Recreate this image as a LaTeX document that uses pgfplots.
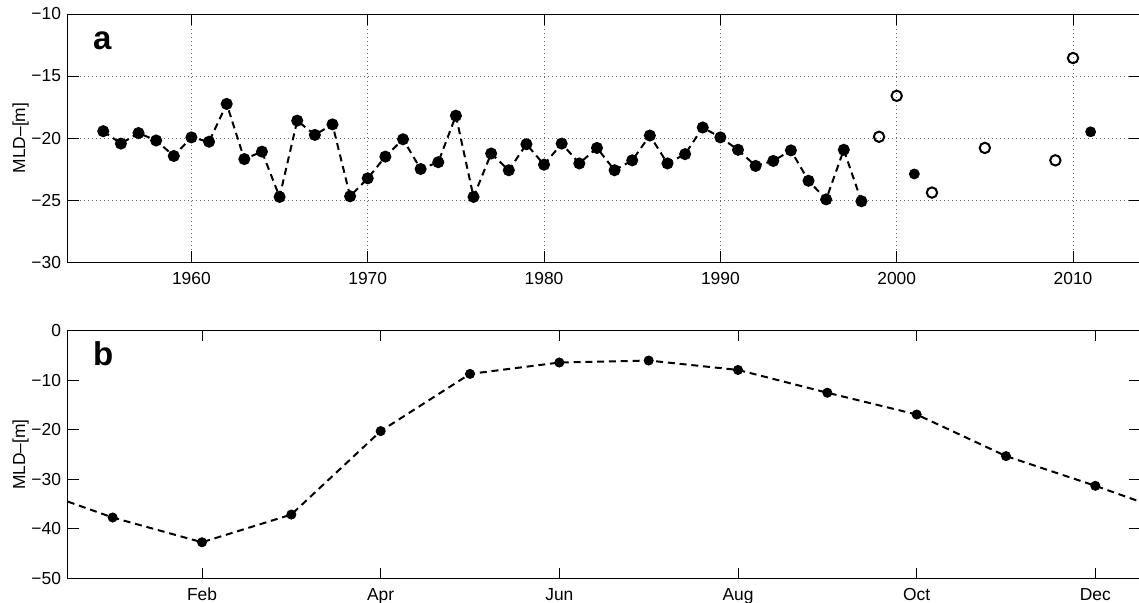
\documentclass[border=0pt]{standalone}
\usepackage{fontspec}
\setmainfont{Liberation Sans}
\usepackage{pgfplots}
\pgfplotsset{compat=1.18}

\pgfplotsset{
  mlstyle/.style={
    scale only axis, width=536pt,
    axis line style={line width=0.5pt},
    every tick/.style={black, line width=0.5pt},
    major tick length=5.3pt,
    tick align=inside,
    ticklabel style={font=\fontsize{8.7}{10}\selectfont},
    xticklabel style={yshift=-1.4pt},
    every axis y label/.style={at={(axis description cs:-0.0443,0.5)}, rotate=90, anchor=center, font=\fontsize{8.7}{10}\selectfont},
    ylabel={MLD–[m]},
  },
}
\tikzset{
  dline/.style={black, line width=1pt, dash pattern=on 3.5pt off 2.4pt},
  plabel/.style={anchor=base west, inner sep=0pt, font=\bfseries\fontsize{16.5}{16.5}\selectfont},
}

\begin{document}
\begin{tikzpicture}
% panel a: yearly values
\begin{axis}[mlstyle, at={(0,0)}, anchor=south west, height=124pt,
    xmin=1953, xmax=2013.8, ymin=-30, ymax=-10,
    xtick={1960,1970,1980,1990,2000,2010},
    xticklabels={1960,1970,1980,1990,2000,2010},
    ytick={-30,-25,-20,-15,-10},
    yticklabels={−30,−25,−20,−15,−10},
    grid=major,
    major grid style={black!60, line width=0.4pt, dash pattern=on 0.4pt off 1.6pt},
  ]
\addplot[dline, mark=*, mark size=2.5pt, mark options={solid, fill=black}] table {
1955 -19.45
1956 -20.45
1957 -19.6
1958 -20.2
1959 -21.45
1960 -19.95
1961 -20.3
1962 -17.25
1963 -21.7
1964 -21.1
1965 -24.75
1966 -18.6
1967 -19.75
1968 -18.9
1969 -24.7
1970 -23.25
1971 -21.5
1972 -20.1
1973 -22.5
1974 -21.95
1975 -18.2
1976 -24.75
1977 -21.25
1978 -22.6
1979 -20.5
1980 -22.15
1981 -20.45
1982 -22.05
1983 -20.8
1984 -22.6
1985 -21.8
1986 -19.8
1987 -22.05
1988 -21.3
1989 -19.15
1990 -19.95
1991 -20.95
1992 -22.25
1993 -21.85
1994 -21.0
1995 -23.45
1996 -24.95
1997 -20.95
1998 -25.1
};
\addplot[black, only marks, mark=*, mark size=2.5pt, mark options={fill=black}] coordinates {(2001,-22.9) (2011,-19.5)};
\addplot[black, only marks, mark=o, mark size=2.6pt, mark options={line width=1pt}] coordinates {
(1999,-19.9) (2000,-16.6) (2002,-24.4) (2005,-20.8) (2009,-21.8) (2010,-13.55)};
\node[plabel] at (rel axis cs:0.023,0.858) {a};
\end{axis}

% panel b: monthly climatology
\begin{axis}[mlstyle, at={(0,-158.2pt)}, anchor=south west, height=123.8pt,
    xmin=0.5, xmax=12.5, ymin=-50, ymax=0,
    xtick={2,4,6,8,10,12},
    xticklabels={Feb,Apr,Jun,Aug,Oct,Dec},
    ytick={-50,-40,-30,-20,-10,0},
    yticklabels={−50,−40,−30,−20,−10,0},
  ]
\addplot[dline] coordinates {
(0,-31.3) (1,-37.7) (2,-42.7) (3,-37.1) (4,-20.25) (5,-8.7) (6,-6.4)
(7,-6.0) (8,-7.9) (9,-12.5) (10,-16.9) (11,-25.3) (12,-31.3) (13,-37.7)};
\addplot[black, only marks, mark=*, mark size=2.3pt, mark options={fill=black}] coordinates {
(1,-37.7) (2,-42.7) (3,-37.1) (4,-20.25) (5,-8.7) (6,-6.4)
(7,-6.0) (8,-7.9) (9,-12.5) (10,-16.9) (11,-25.3) (12,-31.3)};
\node[plabel] at (rel axis cs:0.023,0.8615) {b};
\end{axis}

\pgfresetboundingbox
\path[use as bounding box] (-34pt,-170pt) rectangle (535.5pt,131pt);
\end{tikzpicture}
\end{document}
